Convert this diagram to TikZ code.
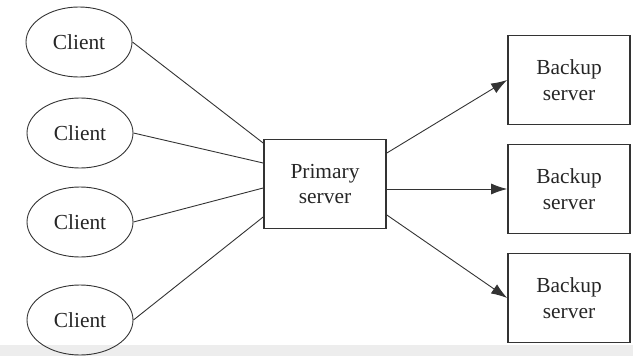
\documentclass[tikz,border=0pt]{standalone}
\usepackage{fontspec}
\setmainfont{Liberation Serif}
\usepackage{tikz}
\usetikzlibrary{arrows.meta,shapes.geometric}

\begin{document}
\begin{tikzpicture}[
  x=1bp, y=1bp,
  font=\fontsize{21.5}{26}\selectfont,
  >=Latex,
  client/.style={ellipse, draw=black!80, line width=.9pt,
    minimum width=106bp, minimum height=70bp, text=black!85},
  server/.style={draw=black!80, line width=1.7pt,
    minimum width=122bp, minimum height=89bp, align=center, text=black!85},
  link/.style={draw=black!80, line width=.9pt},
  arrow/.style={-{Latex[length=16bp,width=11bp]}, draw=black!80,
    line width=.9pt}
]
\useasboundingbox (0,0) rectangle (633,356);
% light strip along the lower edge
\fill[black!7] (0,0) rectangle (633,11);

\node[client] (c1) at (79,314) {Client};
\node[client] (c2) at (80,223) {Client};
\node[client] (c3) at (80,134) {Client};
\node[client] (c4) at (80,36) {Client};

\node[server] (primary) at (325,172) {Primary\\server};

\node[server] (b1) at (569,276) {Backup\\server};
\node[server] (b2) at (569,167) {Backup\\server};
\node[server] (b3) at (569,58) {Backup\\server};

\draw[link] (c1.east) -- ([yshift=41bp]primary.west);
\draw[link] (c2.east) -- ([yshift=21bp]primary.west);
\draw[link] (c3.east) -- ([yshift=-4bp]primary.west);
\draw[link] (c4.east) -- ([yshift=-33bp]primary.west);

\draw[arrow] ([yshift=31bp]primary.east) -- (b1.west);
\draw[arrow] (primary.east |- b2.west) -- (b2.west);
\draw[arrow] ([yshift=-31bp]primary.east) -- (b3.west);
\end{tikzpicture}
\end{document}
